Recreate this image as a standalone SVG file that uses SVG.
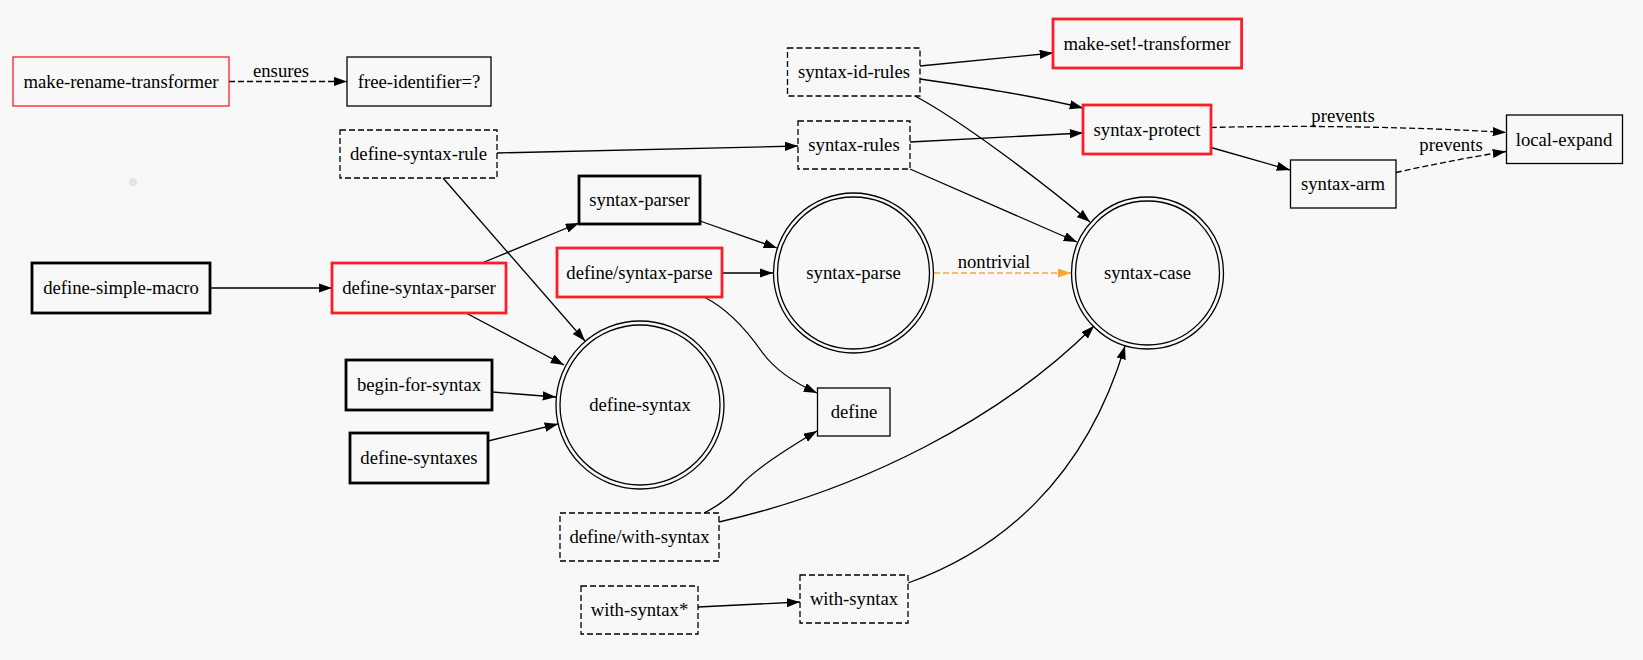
<svg xmlns="http://www.w3.org/2000/svg" width="1643" height="660" viewBox="0 0 1643 660">
<defs>
<style>
.bg{fill:#f8f8f8}
.box{fill:none;stroke:#000;stroke-width:1.3}
.bold{stroke-width:2.8}
.red{stroke:#fb1e2a}
.dash{stroke-dasharray:6,3}
.edge{fill:none;stroke:#000;stroke-width:1.3}
.edash{stroke-dasharray:6,3}
.orange{stroke:#f8a532}
text{font-family:"Liberation Serif","Times New Roman",serif;font-size:18.7px;text-anchor:middle;fill:#000}
</style>
<marker id="arr" markerUnits="userSpaceOnUse" markerWidth="14" markerHeight="10" refX="13.3" refY="4.67" orient="auto">
<path d="M0,0 L13.3,4.67 L0,9.33 z" fill="#000"/>
</marker>
<marker id="arro" markerUnits="userSpaceOnUse" markerWidth="14" markerHeight="10" refX="13.3" refY="4.67" orient="auto">
<path d="M0,0 L13.3,4.67 L0,9.33 z" fill="#f8a532"/>
</marker>
</defs>
<rect class="bg" x="0" y="0" width="1643" height="660"/>
<circle cx="133" cy="182" r="4" fill="#e4e4e4"/>

<g id="connectors">
<path class="edge edash" d="M229,81.5 L347,81.5" marker-end="url(#arr)"/>
<text x="281" y="77">ensures</text>
<path class="edge" d="M210,288 L332,288" marker-end="url(#arr)"/>
<path class="edge" d="M497,153 L798,146" marker-end="url(#arr)"/>
<path class="edge" d="M443,178 L585,341" marker-end="url(#arr)"/>
<path class="edge" d="M482,263 L579,223" marker-end="url(#arr)"/>
<path class="edge" d="M466,313 L564,365" marker-end="url(#arr)"/>
<path class="edge" d="M492,392 L556,397" marker-end="url(#arr)"/>
<path class="edge" d="M488,441 L558,424" marker-end="url(#arr)"/>
<path class="edge" d="M700,221 L777,248" marker-end="url(#arr)"/>
<path class="edge" d="M722,273 L773,273" marker-end="url(#arr)"/>
<path class="edge" d="M704,297 C730,310 748,332 762,352 C775,370 795,383 817,393" marker-end="url(#arr)"/>
<path class="edge" d="M704,513 C720,505 730,497 740,486 C752,472 785,450 817,431" marker-end="url(#arr)"/>
<path class="edge" d="M719,522 C860,490 1000,420 1094,326" marker-end="url(#arr)"/>
<path class="edge" d="M698,607 L800,602" marker-end="url(#arr)"/>
<path class="edge" d="M908,583 C1000,550 1085,480 1125,346" marker-end="url(#arr)"/>
<path class="edge" d="M920,66 L1053,53" marker-end="url(#arr)"/>
<path class="edge" d="M920,79 C975,87 1030,95 1083,108" marker-end="url(#arr)"/>
<path class="edge" d="M915,96 C960,120 1040,180 1090,222" marker-end="url(#arr)"/>
<path class="edge" d="M910,142 L1083,133" marker-end="url(#arr)"/>
<path class="edge" d="M910,169 L1077,242" marker-end="url(#arr)"/>
<path class="edge edash orange" d="M934,273 L1071,273" marker-end="url(#arro)"/>
<text x="994" y="268">nontrivial</text>
<path class="edge edash" d="M1211,127.5 C1300,125 1420,127 1506,132.5" marker-end="url(#arr)"/>
<text x="1343" y="121.5">prevents</text>
<path class="edge" d="M1211,147.5 L1290,170" marker-end="url(#arr)"/>
<path class="edge edash" d="M1396,172.5 C1430,165 1470,157 1506,151.5" marker-end="url(#arr)"/>
<text x="1451" y="151">prevents</text>
</g>

<g id="make-rename-transformer"><rect class="box red" x="13" y="57" width="216" height="49"/><text x="121" y="87.5">make-rename-transformer</text></g>
<g id="free-identifier"><rect class="box" x="347" y="57" width="144" height="49"/><text x="419" y="87.5">free-identifier=?</text></g>
<g id="define-syntax-rule"><rect class="box dash" x="340" y="130" width="157" height="48"/><text x="418.5" y="160">define-syntax-rule</text></g>
<g id="define-simple-macro"><rect class="box bold" x="32" y="263" width="178" height="50"/><text x="121" y="294">define-simple-macro</text></g>
<g id="define-syntax-parser"><rect class="box bold red" x="332" y="263" width="174" height="50"/><text x="419" y="294">define-syntax-parser</text></g>
<g id="begin-for-syntax"><rect class="box bold" x="346" y="360" width="146" height="50"/><text x="419" y="391">begin-for-syntax</text></g>
<g id="define-syntaxes"><rect class="box bold" x="350" y="433" width="138" height="50"/><text x="419" y="464">define-syntaxes</text></g>
<g id="syntax-parser"><rect class="box bold" x="579" y="176" width="121" height="48"/><text x="639.5" y="206">syntax-parser</text></g>
<g id="define-syntax-parse"><rect class="box bold red" x="557" y="248" width="165" height="49"/><text x="639.5" y="278.5">define/syntax-parse</text></g>
<g id="define-syntax"><circle class="box" cx="640" cy="405" r="84"/><circle class="box" cx="640" cy="405" r="80"/><text x="640" y="411">define-syntax</text></g>
<g id="define-with-syntax"><rect class="box dash" x="560" y="513" width="159" height="48"/><text x="639.5" y="543">define/with-syntax</text></g>
<g id="with-syntax-star"><rect class="box dash" x="581" y="586" width="117" height="48"/><text x="639.5" y="616">with-syntax*</text></g>
<g id="syntax-id-rules"><rect class="box dash" x="787.5" y="48" width="132.5" height="48"/><text x="854" y="78">syntax-id-rules</text></g>
<g id="syntax-rules"><rect class="box dash" x="798" y="121" width="112" height="48"/><text x="854" y="151">syntax-rules</text></g>
<g id="syntax-parse"><circle class="box" cx="853.5" cy="273" r="80"/><circle class="box" cx="853.5" cy="273" r="76"/><text x="853.5" y="279">syntax-parse</text></g>
<g id="define"><rect class="box" x="817.5" y="388" width="72.5" height="48"/><text x="854" y="418">define</text></g>
<g id="with-syntax"><rect class="box dash" x="800" y="575" width="108" height="48"/><text x="854" y="605">with-syntax</text></g>
<g id="make-set-transformer"><rect class="box bold red" x="1053" y="19" width="188.6" height="49"/><text x="1147" y="49.5">make-set!-transformer</text></g>
<g id="syntax-protect"><rect class="box bold red" x="1083" y="105" width="128" height="49"/><text x="1147" y="135.5">syntax-protect</text></g>
<g id="syntax-case"><circle class="box" cx="1147.5" cy="273" r="76"/><circle class="box" cx="1147.5" cy="273" r="72"/><text x="1147.5" y="279">syntax-case</text></g>
<g id="syntax-arm"><rect class="box" x="1290.5" y="160" width="105.5" height="48"/><text x="1343" y="190">syntax-arm</text></g>
<g id="local-expand"><rect class="box" x="1506.5" y="115" width="116" height="48.5"/><text x="1564" y="145.5">local-expand</text></g>
</svg>
